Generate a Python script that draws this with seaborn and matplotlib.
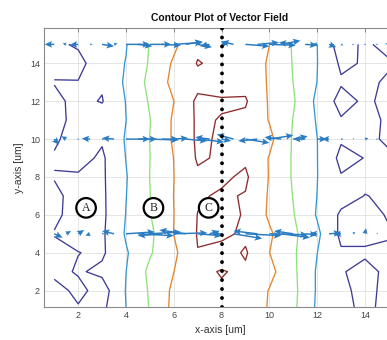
import numpy as np
import matplotlib
matplotlib.use("Agg")
import matplotlib.pyplot as plt
import seaborn as sns

# grid of the scalar field (rows listed from top y=15 down to y=1)
grid_x = [1, 2, 3, 4, 5, 6, 7, 8, 9, 10, 11, 12, 13, 14, 15, 16]
grid_y = [15, 14, 13, 12, 11, 10, 9, 8, 7, 6, 5, 4, 3, 2, 1]
field = [
    [0.85, 1.10, 1.30, 1.95, 3.05, 3.80, 4.80, 4.85, 4.80, 4.01, 2.90, 2.01, 0.50, 1.20, 0.60, 0.90],
    [0.80, 0.75, 1.50, 2.03, 3.10, 4.13, 5.05, 4.80, 4.85, 3.85, 2.95, 2.02, 0.85, 1.07, 1.15, 1.00],
    [1.03, 1.03, 1.10, 2.15, 3.25, 4.26, 4.70, 4.60, 4.70, 3.90, 2.99, 1.99, 1.10, 1.30, 0.80, 0.90],
    [0.83, 1.20, 0.95, 2.03, 3.10, 3.99, 5.20, 5.10, 5.10, 3.90, 3.10, 1.80, 0.66, 1.15, 0.78, 0.85],
    [0.60, 1.40, 1.45, 1.99, 2.97, 4.13, 5.15, 4.95, 4.80, 3.95, 2.97, 1.92, 1.08, 1.20, 0.90, 0.95],
    [0.80, 1.60, 1.10, 2.08, 3.01, 4.13, 5.15, 4.90, 4.80, 4.25, 2.90, 2.01, 1.10, 1.15, 0.90, 0.95],
    [1.13, 1.30, 0.85, 2.02, 2.99, 4.01, 5.10, 4.90, 4.85, 3.95, 2.90, 2.02, 0.75, 1.02, 1.10, 1.05],
    [0.93, 0.90, 0.85, 1.94, 3.01, 3.99, 4.85, 4.85, 5.15, 3.95, 2.90, 2.02, 1.06, 1.20, 1.15, 1.05],
    [1.30, 0.50, 0.82, 1.98, 2.98, 4.01, 4.90, 5.10, 4.95, 3.90, 2.97, 1.99, 1.35, 0.98, 1.10, 1.05],
    [1.20, 0.60, 0.80, 2.02, 2.95, 3.99, 5.02, 5.20, 4.95, 3.85, 3.05, 1.92, 0.85, 0.80, 1.05, 1.00],
    [0.95, 0.70, 0.85, 2.10, 2.78, 4.01, 5.05, 5.25, 4.80, 4.15, 3.20, 2.20, 0.80, 0.80, 0.95, 0.95],
    [1.30, 1.02, 0.85, 1.90, 2.90, 3.80, 4.98, 4.60, 5.10, 4.01, 3.15, 2.01, 1.10, 1.10, 1.10, 1.05],
    [1.30, 0.90, 1.20, 1.99, 3.22, 3.99, 4.80, 5.05, 4.85, 4.30, 3.20, 1.90, 1.05, 0.80, 1.15, 1.10],
    [0.55, 1.30, 0.55, 2.04, 3.10, 4.20, 4.85, 4.90, 4.80, 3.95, 3.25, 1.90, 1.15, 0.80, 1.20, 1.10],
    [0.70, 0.87, 0.80, 1.99, 3.05, 4.26, 4.80, 4.85, 4.80, 3.90, 3.20, 1.85, 1.20, 0.85, 1.20, 1.10],
]
levels = [1, 2, 3, 4, 5]
level_colors = ["#3d3b96", "#3598d4", "#8fe27a", "#e5852c", "#8c2b2b"]

# vector field sampled along three rows
arrow_x = [1.0, 1.5, 2.0, 2.5, 3.0, 3.5, 4.0, 4.5, 5.0, 5.5, 6.0, 6.5, 7.0, 7.5, 8.0,
           8.5, 9.0, 9.5, 10.0, 10.5, 11.0, 11.5, 12.0, 12.5, 13.0, 13.5, 14.0, 14.5, 15.0]
u_row15 = [-0.4, -0.15, -0.35, 0.1, 0.5, 0.15, 1.0, 0.6, 0.9, 0.8, 1.2, 0.7, 0.6, -0.4, 0.3,
           -0.5, 1.0, 0.9, 1.1, 0.8, -0.6, 0.5, -0.2, 0.3, 0.1, 0.05, -0.05, 0.02, -0.15]
v_row15 = [0.0, 0.05, -0.02, 0.0, -0.1, 0.05, 0.0, -0.1, 0.0, -0.05, 0.1, 0.15, -0.15, -0.1, 0.1,
           0.15, -0.1, 0.1, -0.05, 0.2, 0.1, -0.05, 0.0, -0.15, -0.05, 0.02, 0.0, 0.0, 0.05]
u_row10 = [0.2, -0.2, 0.05, -0.35, 0.1, -0.5, 1.0, 0.8, 1.2, 0.7, 0.6, 0.9, 1.1, -0.6, 0.4,
           -0.7, 1.0, -0.8, 1.0, -0.7, 0.6, -0.5, 0.4, -0.3, 0.1, 0.05, 0.15, -0.05, 0.2]
v_row10 = [-0.3, 0.15, 0.0, 0.03, 0.0, 0.05, 0.0, 0.0, -0.05, 0.0, 0.05, -0.1, -0.15, 0.1, -0.1,
           0.25, -0.2, -0.1, 0.2, 0.1, 0.15, 0.0, 0.0, 0.0, 0.0, 0.05, 0.05, 0.0, 0.0]
u_row5 = [0.35, 0.2, 0.25, -0.2, 0.1, -0.5, 1.2, 1.5, 1.3, -1.0, 1.4, -1.1, 1.0, 0.4, -0.4,
          1.2, 1.5, -1.0, 1.6, 1.2, -0.8, 0.5, -0.3, 0.5, -0.3, 0.1, 0.05, 0.05, 0.1]
v_row5 = [-0.2, 0.15, 0.2, -0.1, 0.0, 0.15, 0.1, -0.1, 0.1, -0.1, 0.05, 0.2, -0.1, 0.15, 0.0,
          -0.25, -0.1, 0.15, -0.05, -0.2, 0.15, -0.05, 0.0, 0.05, -0.05, 0.1, 0.3, 0.05, 0.2]
arrow_rows = {15: (u_row15, v_row15), 10: (u_row10, v_row10), 5: (u_row5, v_row5)}

region_labels = ["A", "B", "C"]
region_x = [2.33, 5.15, 7.46]
region_y = 6.37
split_x = 8

sns.set_style("whitegrid", {"grid.color": "#e0e0e0", "axes.edgecolor": "#8a8a8a"})
plt.rcParams['font.family'] = ['Liberation Sans', 'DejaVu Sans']

fig = plt.figure(figsize=(3.87, 3.40), dpi=100)
ax = fig.add_axes([44 / 387, 1 - 307.3 / 340, 352 / 387, 279.6 / 340])

Z = np.flipud(np.array(field))
ax.contour(grid_x, grid_y[::-1], Z, levels=levels, colors=level_colors, linewidths=0.95)

for row_y, (uu, vv) in arrow_rows.items():
    ax.quiver(arrow_x, [row_y] * len(arrow_x), uu, vv, angles="xy", scale_units="xy",
              scale=1, color="#2a7cc2", width=0.0042, headwidth=4.5, headlength=5,
              headaxislength=4.2, zorder=3)

ax.axvline(split_x, color="black", lw=2.8, ls=(0, (0.01, 2.3)), dash_capstyle="round", zorder=4)

for lab, lx in zip(region_labels, region_x):
    ax.text(lx, region_y, lab, ha="center", va="center", fontsize=8.5,
            family=["Liberation Serif", "DejaVu Serif"], zorder=6,
            bbox=dict(boxstyle="circle,pad=0.32", fc="white", ec="black", lw=1.6))

ax.set_xlim(0.57, 15.3)
ax.set_ylim(1.12, 15.88)
ax.set_xticks([2, 4, 6, 8, 10, 12, 14])
ax.set_yticks([2, 4, 6, 8, 10, 12, 14])
ax.tick_params(direction="in", top=True, right=True, length=3, width=0.6, color="#777777",
               labelsize=6.5, labelcolor="#444444", pad=3)
for s in ax.spines.values():
    s.set_linewidth(0.8)
ax.grid(True, lw=0.6)

ax.set_title("Contour Plot of Vector Field", fontsize=7.5, fontweight="bold", pad=5, color="#111111")
ax.set_xlabel("x-axis [um]", fontsize=7.5, color="#333333", labelpad=3)
ax.set_ylabel("y-axis [um]", fontsize=7.5, color="#333333", labelpad=4)

fig.savefig("out.png", dpi=100)
